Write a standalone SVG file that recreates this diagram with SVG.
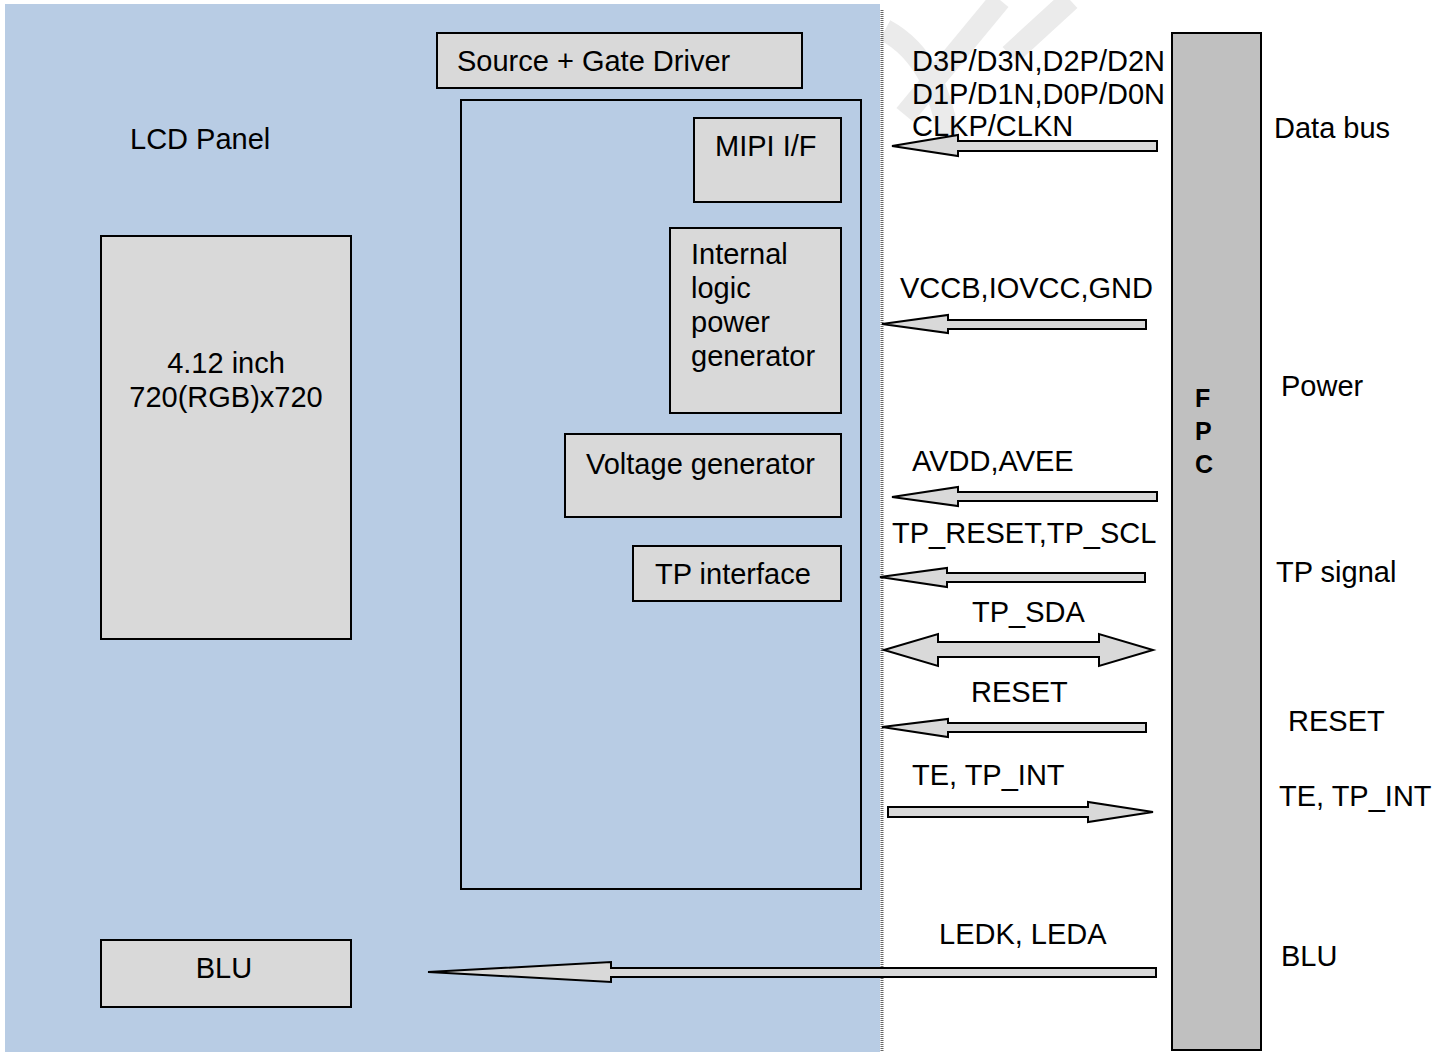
<svg xmlns="http://www.w3.org/2000/svg" width="1449" height="1052" viewBox="0 0 1449 1052">
<style>
text{font-family:"Liberation Sans",Arial,sans-serif;font-size:29px;fill:#000}
.box{fill:#d9d9d9;stroke:#000;stroke-width:2}
.arr{fill:#d9d9d9;stroke:#000;stroke-width:2;stroke-linejoin:miter}
.fpc{font-weight:bold;font-size:25px}
</style>
<rect x="0" y="0" width="1449" height="1052" fill="#fff"/>
<g id="watermark" fill="none" stroke="#ebebeb" stroke-width="22">
<path d="M1000 0 L905 115"/>
<path d="M1070 0 L1010 55"/>
<path d="M885 30 Q940 60 950 150"/>
</g>
<g id="lcd-panel">
<rect x="5" y="4" width="875" height="1048" fill="#b8cce4"/>
<line x1="882" y1="10" x2="882" y2="1052" stroke="#666" stroke-width="3" stroke-dasharray="1 1"/>
<text x="130" y="149">LCD Panel</text>
</g>
<g id="display-area">
<rect class="box" x="101" y="236" width="250" height="403"/>
<text x="226" y="373" text-anchor="middle">4.12 inch</text>
<text x="226" y="407" text-anchor="middle">720(RGB)x720</text>
</g>
<g id="blu-box">
<rect class="box" x="101" y="940" width="250" height="67"/>
<text x="224" y="978" text-anchor="middle">BLU</text>
</g>
<g id="source-gate-driver">
<rect class="box" x="437" y="33" width="365" height="55"/>
<text x="457" y="71">Source + Gate Driver</text>
</g>
<g id="driver-ic">
<rect x="461" y="100" width="400" height="789" fill="none" stroke="#000" stroke-width="2"/>
</g>
<g id="mipi-if">
<rect class="box" x="694" y="118" width="147" height="84"/>
<text x="715" y="156">MIPI I/F</text>
</g>
<g id="internal-logic">
<rect class="box" x="670" y="228" width="171" height="185"/>
<text x="691" y="264">Internal</text>
<text x="691" y="298">logic</text>
<text x="691" y="332">power</text>
<text x="691" y="366">generator</text>
</g>
<g id="voltage-generator">
<rect class="box" x="565" y="434" width="276" height="83"/>
<text x="586" y="474">Voltage generator</text>
</g>
<g id="tp-interface">
<rect class="box" x="633" y="546" width="208" height="55"/>
<text x="655" y="584">TP interface</text>
</g>
<g id="fpc">
<rect x="1172" y="33" width="89" height="1017" fill="#c0c0c0" stroke="#000" stroke-width="2"/>
<text class="fpc" x="1195" y="407">F</text>
<text class="fpc" x="1195" y="440">P</text>
<text class="fpc" x="1195" y="473">C</text>
</g>
<g id="connectors">
<path class="arr" d="M892 146 L958 135 L958 141 L1157 141 L1157 151 L958 151 L958 156 Z"/>
<path class="arr" d="M882 324 L948 315 L948 320 L1146 320 L1146 329 L948 329 L948 333 Z"/>
<path class="arr" d="M892 497 L958 487 L958 492 L1157 492 L1157 501 L958 501 L958 506 Z"/>
<path class="arr" d="M880 577 L947 568 L947 573 L1145 573 L1145 582 L947 582 L947 587 Z"/>
<path class="arr" d="M884 650 L938 634 L938 642 L1099 642 L1099 634 L1153 650 L1099 666 L1099 657 L938 657 L938 666 Z"/>
<path class="arr" d="M882 727 L948 719 L948 723 L1146 723 L1146 732 L948 732 L948 737 Z"/>
<path class="arr" d="M1153 812 L1088 802 L1088 807 L888 807 L888 817 L1088 817 L1088 822 Z"/>
<path class="arr" d="M428 972 L611 962 L611 968 L1156 968 L1156 977 L611 977 L611 982 Z"/>
</g>
<g id="labels">
<text x="912" y="71">D3P/D3N,D2P/D2N</text>
<text x="912" y="104">D1P/D1N,D0P/D0N</text>
<text x="912" y="136">CLKP/CLKN</text>
<text x="900" y="298">VCCB,IOVCC,GND</text>
<text x="912" y="471">AVDD,AVEE</text>
<text x="892" y="543">TP_RESET,TP_SCL</text>
<text x="972" y="622">TP_SDA</text>
<text x="971" y="702">RESET</text>
<text x="912" y="785">TE, TP_INT</text>
<text x="939" y="944">LEDK, LEDA</text>
<text x="1274" y="138">Data bus</text>
<text x="1281" y="396">Power</text>
<text x="1276" y="582">TP signal</text>
<text x="1288" y="731">RESET</text>
<text x="1279" y="806">TE, TP_INT</text>
<text x="1281" y="966">BLU</text>
</g>
</svg>
